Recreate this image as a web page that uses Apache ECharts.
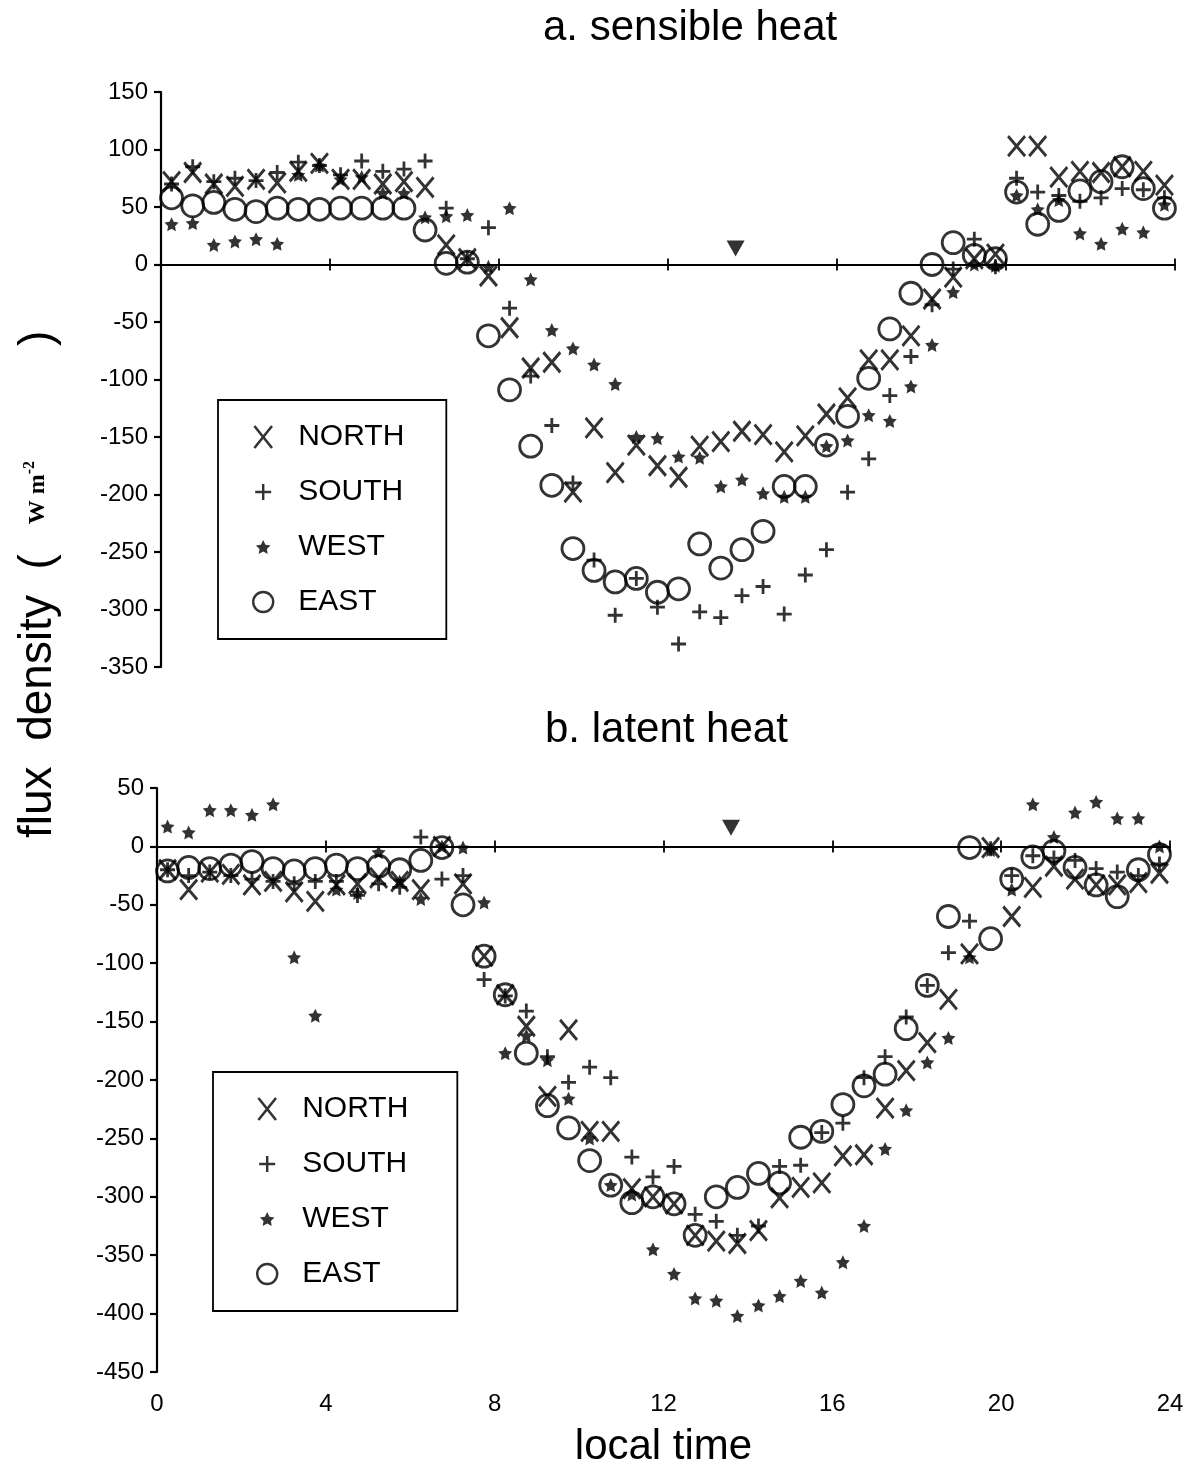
<!DOCTYPE html>
<html><head><meta charset="utf-8">
<script src="https://cdn.jsdelivr.net/npm/echarts@6/dist/echarts.min.js"></script>
<style>html,body{margin:0;padding:0;background:#fff}#c{width:1198px;height:1472px}</style>
</head><body><div id="c"></div>
<script>
// local time (h), half-hourly midpoints
const times = [0.25,0.75,1.25,1.75,2.25,2.75,3.25,3.75,4.25,4.75,5.25,5.75,6.25,6.75,7.25,7.75,8.25,8.75,9.25,9.75,10.25,10.75,11.25,11.75,12.25,12.75,13.25,13.75,14.25,14.75,15.25,15.75,16.25,16.75,17.25,17.75,18.25,18.75,19.25,19.75,20.25,20.75,21.25,21.75,22.25,22.75,23.25,23.75];

// a. sensible heat (W m-2)
const sensNorth = [72,80,70,68,74,71,81,88,74,74,70,72,67,17,5,-10,-55,-90,-85,-198,-142,-181,-157,-175,-185,-158,-154,-145,-148,-163,-149,-130,-116,-83,-83,-62,-30,-11,5,9,103,103,76,81,80,85,81,69];
const sensSouth = [70,85,72,75,73,80,89,86,78,90,81,83,90,49,5,32,-38,-97,-140,-190,-257,-305,-273,-298,-330,-302,-307,-288,-280,-304,-270,-248,-198,-169,-114,-80,-35,-4,22,-2,75,63,60,55,58,66,65,58];
const sensWest  = [35,36,17,20,22,18,78,86,74,76,62,62,41,42,43,-2,49,-13,-57,-73,-87,-104,-150,-151,-167,-168,-193,-187,-199,-202,-202,-158,-153,-131,-136,-106,-70,-24,0,-1,60,48,56,27,18,31,28,52];
const sensEast  = [58,51,54,48,46,49,48,48,49,49,49,49,30,1,2,-62,-109,-158,-192,-247,-266,-276,-273,-285,-282,-243,-264,-248,-232,-193,-193,-157,-132,-99,-56,-25,0,19,8,5,63,35,47,64,72,85,66,49];

// b. latent heat (W m-2)
const latNorth = [-20,-37,-22,-24,-33,-30,-39,-47,-33,-32,-27,-30,-37,0,-32,-94,-127,-154,-214,-157,-244,-244,-293,-300,-306,-333,-338,-340,-329,-301,-292,-288,-265,-264,-224,-192,-168,-131,-92,-1,-60,-35,-17,-28,-33,-33,-31,-23];
const latSouth = [-20,-25,-22,-25,-28,-30,-32,-30,-30,-42,-32,-35,8,-28,-25,-114,-128,-141,-180,-202,-189,-198,-266,-283,-274,-315,-321,-333,-325,-274,-273,-245,-237,-198,-180,-146,-119,-91,-64,-2,-25,-8,-10,-12,-19,-22,-25,-15];
const latWest  = [17,12,31,31,27,36,-95,-145,-37,-40,-5,-30,-45,0,-1,-48,-177,-162,-183,-216,-250,-290,-298,-345,-366,-387,-389,-402,-393,-385,-372,-382,-356,-325,-259,-226,-185,-164,-95,-3,-37,36,8,29,38,24,24,0];
const latEast  = [-21,-18,-19,-16,-13,-19,-21,-19,-16,-19,-17,-20,-12,-1,-50,-94,-127,-177,-222,-241,-269,-290,-305,-300,-306,-333,-300,-292,-280,-288,-249,-244,-221,-205,-195,-156,-119,-60,-1,-79,-28,-9,-4,-18,-33,-43,-20,-7];

// solar noon marker
const noonTime = [13.6];
const noonMarkTop = [14];
const noonMarkBottom = [16];

const seriesNames = ['NORTH','SOUTH','WEST','EAST'];
const titles = ['a. sensible heat','b. latent heat'];
const xName = 'local time';

const FONT = "'Liberation Sans', Arial, Helvetica, sans-serif";
const SERIF = "'Liberation Serif', 'Times New Roman', serif";
const STAR = 'path://M50,0 L64.69,29.77 L97.55,34.55 L73.78,57.73 L79.39,90.45 L50,75 L20.61,90.45 L26.22,57.73 L2.45,34.55 L35.31,29.77 Z';
const STAR_LEG = 'path://M0,0 L0.01,0 L0,0.01 Z M130,130 L129.99,130 L130,129.99 Z M65,20 L79.69,49.77 L112.55,54.55 L88.78,77.73 L94.39,110.45 L65,95 L35.61,110.45 L41.22,77.73 L17.45,54.55 L50.31,49.77 Z';
const PLUS_LEG = 'path://M0,0 L0.01,0 M20,22 L19.99,22 M10,3 L10,19 M2,11 L18,11';
const STY = {
  NORTH: {symbol:'path://M0,0 L16,20 M16,0 L0,20', size:[17,20], item:{color:'rgba(0,0,0,0)', borderColor:'#000', borderWidth:3}},
  SOUTH: {symbol:'path://M7,0 L7,14 M0,7 L14,7', size:[15,15], item:{color:'rgba(0,0,0,0)', borderColor:'#000', borderWidth:2.8}},
  WEST:  {symbol:STAR, size:[14,14], item:{color:'#000', borderColor:'#000', borderWidth:0}},
  EAST:  {symbol:'circle', size:22, item:{color:'rgba(0,0,0,0)', borderColor:'#000', borderWidth:2.8}}
};

function mk(name, vals, xi, yi) {
  const s = STY[name];
  return {type:'scatter', name, xAxisIndex:xi, yAxisIndex:yi, silent:true,
    data: times.map((t,i)=>[t, vals[i]]),
    symbol:s.symbol, symbolSize:s.size, itemStyle:s.item, z:3};
}
function noon(val, xi, yi){
  return {type:'scatter', name:'noon', xAxisIndex:xi, yAxisIndex:yi, silent:true,
    data: noonTime.map((t,i)=>[t, val[i]]), symbol:'triangle', symbolRotate:180,
    symbolSize:[18,16], itemStyle:{color:'#000'}, z:3};
}

const zeroAxis = (grid, pos, len, yIdx) => ({type:'value', gridIndex:grid, position:pos, min:0, max:24, interval:4,
  axisLine:{onZero:true, onZeroAxisIndex:yIdx, lineStyle:{color:'#000', width:1.8}},
  axisTick:{show:true, inside:false, length:len, lineStyle:{color:'#000', width:1.8}},
  axisLabel:{show:false}, splitLine:{show:false}});

const yAx = (grid, min, max) => ({type:'value', gridIndex:grid, min, max, interval:50,
  axisLine:{show:true, onZero:false, lineStyle:{color:'#000', width:2.2}},
  axisTick:{show:true, inside:false, length:7, lineStyle:{color:'#000', width:2.2}},
  axisLabel:{color:'#000', fontSize:24, fontFamily:FONT, margin:13},
  splitLine:{show:false}});

const legendItems = [
  {name:'NORTH', itemStyle:{color:'rgba(0,0,0,0)', borderColor:'#000', borderWidth:2.6}},
  {name:'SOUTH', icon:PLUS_LEG, itemStyle:{color:'rgba(0,0,0,0)', borderColor:'#000', borderWidth:2.4}},
  {name:'WEST', icon:STAR_LEG, itemStyle:{color:'#000', borderWidth:0}},
  {name:'EAST', itemStyle:{color:'rgba(0,0,0,0)', borderColor:'#000', borderWidth:2.4}}
];
const mkLegend = (left, top, padL, padR) => ({orient:'vertical', left, top, data:legendItems,
  itemWidth:20, itemHeight:22, itemGap:25, selectedMode:false,
  padding:[22,padR,22,padL], borderColor:'#000', borderWidth:1.8,
  textStyle:{color:'#000', fontSize:30, fontFamily:FONT, padding:[0,0,0,20]}});

const chart = echarts.init(document.getElementById('c'), null, {renderer:'canvas'});
chart.setOption({
  animation:false,
  backgroundColor:'#fff',
  title:[
    {text:titles[0], left:538, top:2, textStyle:{fontSize:42, fontWeight:'normal', color:'#000', fontFamily:FONT}},
    {text:titles[1], left:540, top:704, textStyle:{fontSize:42, fontWeight:'normal', color:'#000', fontFamily:FONT}}
  ],
  legend:[ mkLegend(218, 400, 34, 42), mkLegend(213, 1072, 43, 49) ],
  grid:[
    {left:161, top:92, width:1014, height:575},
    {left:157, top:788, width:1013, height:584}
  ],
  xAxis:[
    zeroAxis(0,'bottom',6,0),
    zeroAxis(0,'top',6,0),
    {type:'value', gridIndex:1, position:'bottom', min:0, max:24, interval:4,
      axisLine:{show:false, onZero:false}, axisTick:{show:false},
      axisLabel:{color:'#000', fontSize:24, fontFamily:FONT, margin:20},
      splitLine:{show:false},
      name:xName, nameLocation:'middle', nameGap:54,
      nameTextStyle:{color:'#000', fontSize:42, fontFamily:FONT}},
    zeroAxis(1,'bottom',6,1),
    zeroAxis(1,'top',6,1)
  ],
  yAxis:[ yAx(0,-350,150), yAx(1,-450,50) ],
  graphic:[
    {type:'text', x:38, y:838, rotation:Math.PI/2, silent:true,
      style:{text:'{a|flux  density  (}{b|     W m}{c|-2}{a|         )}',
        align:'left', verticalAlign:'middle', textAlign:'left', textVerticalAlign:'middle',
        fill:'#000',
        rich:{
          a:{fontSize:46, fontFamily:FONT, fill:'#000', color:'#000'},
          b:{fontSize:24, fontFamily:SERIF, fontWeight:'bold', fill:'#000', color:'#000'},
          c:{fontSize:16, fontFamily:SERIF, fontWeight:'bold', fill:'#000', color:'#000', padding:[0,0,16,0]}
        }}}
  ],
  series:[
    mk('NORTH', sensNorth, 0, 0), mk('SOUTH', sensSouth, 0, 0), mk('WEST', sensWest, 0, 0), mk('EAST', sensEast, 0, 0),
    noon(noonMarkTop, 0, 0),
    mk('NORTH', latNorth, 2, 1), mk('SOUTH', latSouth, 2, 1), mk('WEST', latWest, 2, 1), mk('EAST', latEast, 2, 1),
    noon(noonMarkBottom, 2, 1)
  ]
});
</script></body></html>
